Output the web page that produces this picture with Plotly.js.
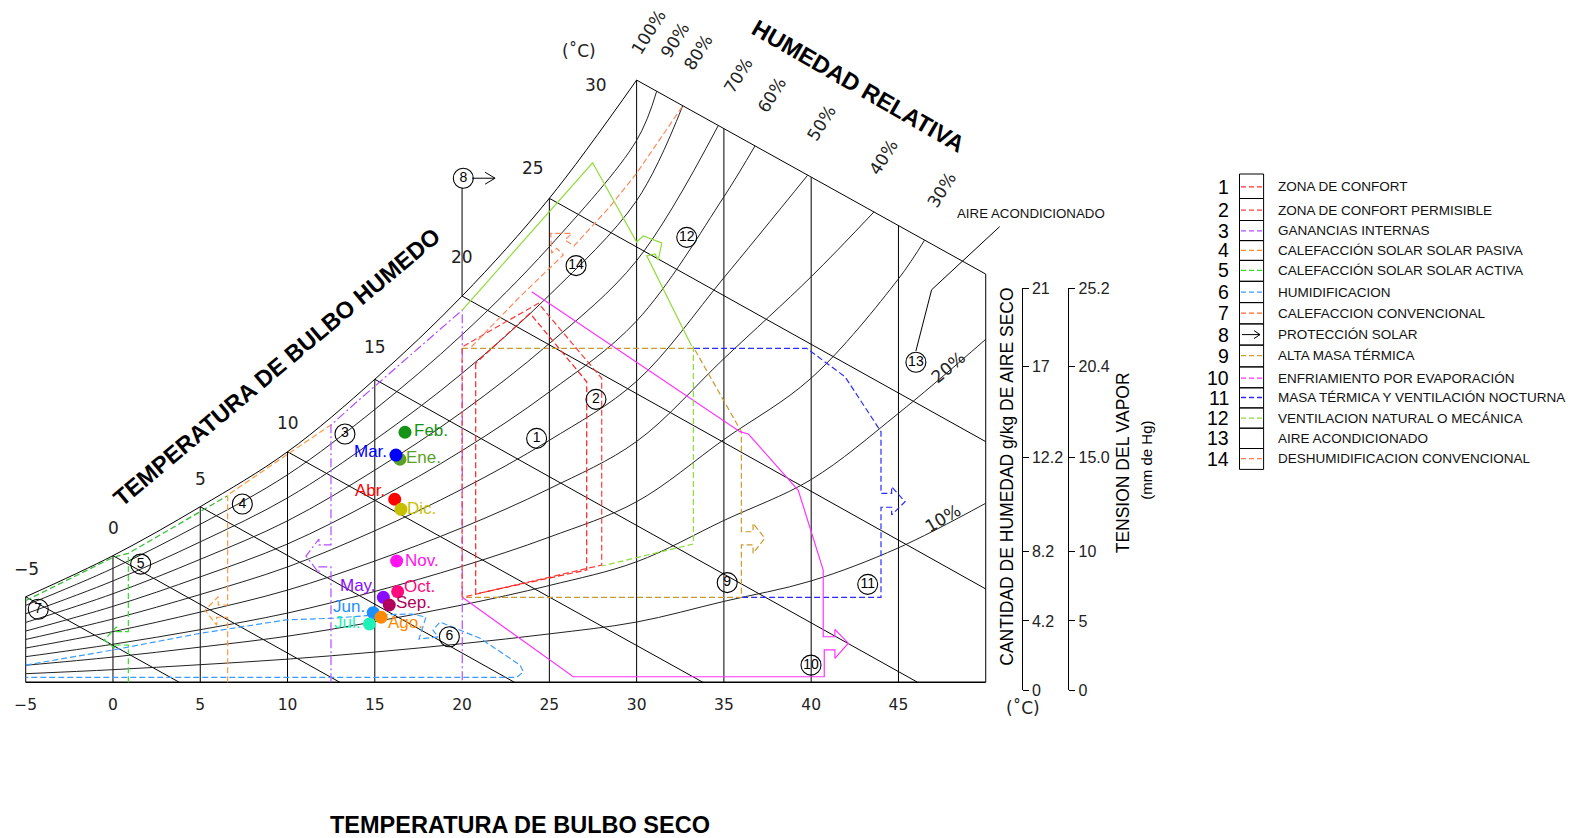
<!DOCTYPE html>
<html><head><meta charset="utf-8">
<script src="https://cdn.plot.ly/plotly-3.0.1.min.js"></script>
<style>html,body{margin:0;padding:0;background:#fff}#chart{width:1578px;height:838px}</style>
</head><body><div id="chart"></div>
<script>
// ---------------- DATA ----------------
const dryBulbTicks = [-5,0,5,10,15,20,25,30,35,40,45];
const dryBulbTickText = ['\u22125','0','5','10','15','20','25','30','35','40','45'];

// saturation curve (100 %)  T (°C) / humidity (chart units)
const rh100T = [-5,0,5,10,15,20,25,30];
const rh100W = [4.47,6.62,9.18,12.05,15.84,20.19,25.30,31.48];
const rh90T = [-5,0,5,10,15,20,25,30,31.15];
const rh90W = [4.02,5.96,8.26,10.85,14.26,18.17,22.77,28.33,30.90];
const rh80T = [-5,0,5,10,15,20,25,30,32.64];
const rh80W = [3.58,5.30,7.34,9.64,12.67,16.15,20.24,25.18,30.14];
const rh70T = [-5,0,5,10,15,20,25,30,34.68];
const rh70W = [3.13,4.63,6.43,8.44,11.09,14.13,17.71,22.04,29.11];
const rh60T = [-5,0,5,10,15,20,25,30,35,36.78];
const rh60W = [2.68,3.97,5.51,7.23,9.50,12.11,15.18,18.89,25.38,28.04];
const rh50T = [-5,0,5,10,15,20,25,30,35,39.8];
const rh50W = [2.24,3.31,4.59,6.03,7.92,10.10,12.65,15.74,21.15,26.51];
const rh40T = [-5,0,5,10,15,20,25,30,35,40,43.6];
const rh40W = [1.79,2.65,3.67,4.82,6.34,8.08,10.12,12.59,16.92,21.20,24.59];
const rh30T = [-5,0,5,10,15,20,25,30,35,40,45,46.5];
const rh30W = [1.34,1.99,2.75,3.62,4.75,6.06,7.59,9.44,12.69,15.90,21.09,23.12];
const rh20T = [-5,0,5,10,15,20,25,30,35,40,45,50];
const rh20W = [0.89,1.32,1.84,2.41,3.17,4.04,5.06,6.30,8.46,10.60,14.06,17.93];
const rh10T = [-5,0,5,10,15,20,25,30,35,40,45,50];
const rh10W = [0.45,0.66,0.92,1.21,1.58,2.02,2.53,3.15,4.23,5.30,7.03,9.36];

// wet-bulb lines: start on saturation curve, end on bottom / right edge
const wbT = [-5,0,5,10,15,20,25,30];
const wbStartW = [4.47,6.62,9.18,12.05,15.84,20.19,25.30,31.48];
const wbEndT = [3.8,13.0,23.0,33.8,46.1,50,50,50];
const wbEndW = [0,0,0,0,0,4.88,12.58,21.34];
const wbLabels = ['\u22125','0','5','10','15','20','25','30'];
const wbLabelT = [-4.94,0.02,4.99,10.04,15.01,19.98,24.08,27.67];
const wbLabelW = [5.91,8.05,10.61,13.54,17.54,22.25,26.87,31.22];

// dry-bulb vertical lines and their top
const dbLineT = [-5,0,5,10,15,25,30,35,40,45,50];
const dbLineTop = [4.47,6.62,9.18,12.05,15.84,25.30,31.48,28.94,26.40,23.86,21.34];

// relative humidity labels
const rhLabels = ['100%','90%','80%','70%','60%','50%','40%','30%','20%','10%'];
const rhLabelT = [30.67,32.2,33.53,35.83,37.74,40.6,44.13,47.48,47.86,47.57];
const rhLabelW = [34.01,33.58,32.96,31.75,30.70,29.22,27.48,25.73,16.50,8.57];
const rhLabelAngle = [-58,-58,-58,-58,-58,-58,-58,-58,-40,-30];

// strategy zones
const zone1T = [20.78,20.78,27.14,27.14,23.89,20.78];
const zone1W = [16.68,4.62,5.87,15.71,19.29,16.68];
const zone2T = [20.0,20.0,24.37,28.0,28.0,20.0];
const zone2W = [4.44,17.53,19.81,15.89,6.13,4.44];
const zone3T = [12.49,12.49,11.80,11.80,11.06,11.80,11.80,12.49,12.49,13.87,20.01,20.01];
const zone3W = [0,6.03,6.03,5.71,6.60,7.49,7.18,7.18,13.45,14.58,19.46,0];
const zone4T = [6.57,6.57,5.94,5.94,5.27,6.03,6.03,6.57,6.57,12.62];
const zone4W = [0,3.40,3.40,2.99,3.77,4.47,4.04,4.04,9.79,13.54];
const zone5T = [0.88,0.88,0.12,0.12,-0.50,0.21,0.21,0.88,0.88];
const zone5W = [0,1.95,1.95,1.78,2.21,2.91,2.65,2.65,6.74];
const zone5topT = [-5,0,0.88,6.55];
const zone5topW = [4.27,6.53,6.74,9.74];
const zone6T = [-5,0,5,9.9,12.62,15.0,17.13,17.93,17.53,18.62,18.33,18.74,21.03,23.32,23.51,23.13,-5];
const zone6W = [0.90,1.69,2.56,3.26,3.35,3.52,3.57,3.41,2.26,2.37,2.73,3.15,2.30,0.90,0.55,0.26,0.26];
const zone9T = [20.0,33.29,36.0,36.0,36.67,36.67,37.34,36.67,36.67,36.0,36.0,20.0];
const zone9W = [17.46,17.46,13.10,7.87,7.87,8.31,7.53,6.74,7.18,7.18,4.44,4.44];
const zone10T = [23.99,35.92,36.40,39.26,40.69,40.69,41.36,41.36,42.13,41.36,41.36,40.75,40.75,26.37,20.01];
const zone10W = [20.42,13.10,12.98,10.04,5.87,2.38,2.38,2.77,2.04,1.25,1.69,1.69,0.29,0.29,4.44];
const zone11T = [33.29,39.74,41.94,44.0,44.0,44.61,44.61,45.38,44.61,44.61,44.0,44.0,36.0];
const zone11W = [17.46,17.46,15.97,13.10,9.88,9.88,10.22,9.44,8.75,9.15,9.15,4.44,4.44];
const zone12T = [20.01,27.48,30.0,30.38,31.44,31.24,31.05,30.58,33.15];
const zone12W = [19.46,27.16,23.02,23.33,22.97,22.07,22.39,22.29,17.58];
const zone12bT = [33.25,33.25,28.0];
const zone12bW = [17.58,7.23,6.08];
const zone14T = [20.54,23.32,25.80,25.42,25.13,25.08,26.28,25.90,26.41,28.47,30.0,32.64];
const zone14W = [17.54,20.16,22.34,22.69,22.43,23.47,23.47,23.12,22.81,24.86,26.61,30.13];
const zone8T = [20.0,20.0];
const zone8W = [20.19,25.84];
const zone8ArrowT = [20.57,21.89];
const zone8ArrowW = [26.35,26.35];
const zone8HeadT = [21.32,21.89,21.32];
const zone8HeadW = [26.66,26.35,26.04];
const zone13T = [46.0,46.9,50.8];
const zone13W = [17.32,20.52,23.82];

// numbered circles
const circNum = ['1','2','3','4','5','6','7','8','9','10','11','12','13','14'];
const circT = [24.27,27.67,13.29,7.41,1.59,19.27,-4.28,20.07,35.19,39.99,43.24,32.87,46.0,26.53];
const circW = [12.75,14.79,12.98,9.32,6.18,2.38,3.82,26.35,5.21,0.90,5.12,23.26,16.73,21.78];

// monthly climate points
const months = ['Ene.','Feb.','Mar.','Abr.','May.','Jun.','Jul.','Ago.','Sep.','Oct.','Nov.','Dic.'];
const monthT = [16.44,16.73,16.21,16.14,15.49,14.91,14.69,15.36,15.83,16.31,16.25,16.50];
const monthW = [11.66,13.07,11.88,9.57,4.44,3.64,3.05,3.40,4.04,4.74,6.34,9.04];
const monthColors = ['#5aa12a','#169216','#0000ff','#ff0000','#8a0cff','#1e8fff','#1ff2b8','#ff8a00','#b0005c','#ff0a7e','#ff14f0','#c6c000'];
const monthDrawOrder = [0,1,2,3,11,10,4,9,8,5,6,7];

// right axes
const moistTickText = ['0','4.2','8.2','12.2','17','21'];
const moistTickPos = [0,3.61,7.23,12.16,16.90,21];
const vapTickText = ['0','5','10','15.0','20.4','25.2'];
const vapTickPos = [0,4.33,8.68,14.60,20.28,25.2];

// legend
const legendNums = ['1','2','3','4','5','6','7','8','9','10','11','12','13','14'];
const legendLabels = ['ZONA DE CONFORT','ZONA DE CONFORT PERMISIBLE','GANANCIAS INTERNAS','CALEFACCI\u00d3N SOLAR SOLAR PASIVA','CALEFACCI\u00d3N SOLAR SOLAR ACTIVA','HUMIDIFICACION','CALEFACCION CONVENCIONAL','PROTECCI\u00d3N SOLAR','ALTA MASA T\u00c9RMICA','ENFRIAMIENTO POR EVAPORACI\u00d3N','MASA T\u00c9RMICA Y VENTILACI\u00d3N NOCTURNA','VENTILACION NATURAL O MEC\u00c1NICA','AIRE ACONDICIONADO','DESHUMIDIFICACION CONVENCIONAL'];
const legendColors = ['#ff3030','#ff4040','#b44cff','#ff8c26','#2ee02e','#3a9cff','#ff6633','arrow','#c9a02e','#ff33ff','#2b2bff','#8fdc3a','','#ff7f50'];

// ---------------- LAYOUT HELPERS ----------------
const W = 1578, H = 838;
const x0px = 25.7, pxPerC = 17.455, y0px = 682.3, pxPerU = 19.13;
const PX = p => p / W, PY = p => 1 - p / H;

const traces = [];
function L(x, y, color, width, dash, shape) {
  traces.push({type:'scatter', mode:'lines', x:x, y:y, xaxis:'x', yaxis:'y',
    line:{color:color, width:width||1, dash:dash||'solid', shape:shape||'linear', smoothing:1},
    hoverinfo:'skip', showlegend:false});
}
for (let i = 0; i < dbLineT.length; i++) L([dbLineT[i], dbLineT[i]], [0, dbLineTop[i]], '#000', 1);
L([-5, 50], [0, 0], '#000', 1.5);
for (let i = 0; i < wbT.length; i++) L([wbT[i], wbEndT[i]], [wbStartW[i], wbEndW[i]], '#000', 1);
const rhSets = [[rh100T,rh100W],[rh90T,rh90W],[rh80T,rh80W],[rh70T,rh70W],[rh60T,rh60W],[rh50T,rh50W],[rh40T,rh40W],[rh30T,rh30W],[rh20T,rh20W],[rh10T,rh10W]];
rhSets.forEach((s, i) => L(s[0], s[1], i === 0 ? '#000' : '#222', 1, 'solid', 'spline'));

const D = '6px,3px';
L(zone6T, zone6W, '#3a9cff', 1.2, D);
L(zone5T, zone5W, '#2ee02e', 1.2, D);
L(zone5topT, zone5topW, '#2fbf2f', 1.2, D);
L(zone4T, zone4W, '#ff9a3c', 1.2, D);
L(zone3T, zone3W, '#b44cff', 1.2, '9px,3px,2px,3px');
L(zone9T, zone9W, '#c99a2e', 1.2, D);
L(zone11T, zone11W, '#2b2bff', 1.2, D);
L(zone10T, zone10W, '#ff33ff', 1.2);
L(zone12T, zone12W, '#8fdc3a', 1.2);
L(zone12bT, zone12bW, '#8fdc3a', 1.2, D);
L(zone2T, zone2W, '#ff3c3c', 1.2, D);
L(zone1T, zone1W, '#ff2020', 1.2, D);
L(zone14T, zone14W, '#ff8a5c', 1.2, D);
L(zone8T, zone8W, '#000', 1);
L(zone8ArrowT, zone8ArrowW, '#000', 1);
L(zone8HeadT, zone8HeadW, '#000', 1);
L(zone13T, zone13W, '#000', 1);

traces.push({type:'scatter', mode:'markers+text', x:circT, y:circW, text:circNum, xaxis:'x', yaxis:'y',
  textposition:'middle center', cliponaxis:false,
  marker:{symbol:'circle-open', size:20, color:'#000', line:{width:1.1, color:'#000'}},
  textfont:{family:'Liberation Sans, Arial, sans-serif', size:14, color:'#000'},
  hoverinfo:'skip', showlegend:false});

monthDrawOrder.forEach(i => {
  traces.push({type:'scatter', mode:'markers', x:[monthT[i]], y:[monthW[i]], xaxis:'x', yaxis:'y', cliponaxis:false,
    marker:{size:13, color:monthColors[i]}, hoverinfo:'skip', showlegend:false});
});

traces.push({type:'scatter', mode:'markers', x:[null], y:[null], xaxis:'x', yaxis:'y2', showlegend:false, hoverinfo:'skip'});
traces.push({type:'scatter', mode:'markers', x:[null], y:[null], xaxis:'x', yaxis:'y3', showlegend:false, hoverinfo:'skip'});

// ---------------- ANNOTATIONS ----------------
const ann = [];
wbLabels.forEach((t, i) => ann.push({x:wbLabelT[i], y:wbLabelW[i], xref:'x', yref:'y', text:t, showarrow:false,
  font:{family:'DejaVu Sans, sans-serif', size:17, color:'#222'}, xanchor:'center', yanchor:'middle'}));
rhLabels.forEach((t, i) => ann.push({x:rhLabelT[i], y:rhLabelW[i], xref:'x', yref:'y', text:t, showarrow:false,
  textangle:rhLabelAngle[i], font:{family:'DejaVu Sans, sans-serif', size:17, color:'#222'}, xanchor:'center', yanchor:'middle'}));

const mAnchor = ['left','left','right','right','right','right','right','left','left','left','left','left'];
const mDx = [4,7,-7,-8,-5,-6,-7,5,5,4,6,4];
const mDy = [2,2,4,9,12,6,1,-5,3,5,1,1];
months.forEach((m, i) => ann.push({x:monthT[i], y:monthW[i], xref:'x', yref:'y', text:m, showarrow:false,
  xanchor:mAnchor[i], yanchor:'middle', xshift:mDx[i], yshift:mDy[i],
  font:{family:'Liberation Sans, Arial, sans-serif', size:17, color:monthColors[i]}}));

const bold = s => ({family:'Liberation Sans, Arial, sans-serif', size:s, color:'#000', weight:'bold'});
ann.push({x:PX(277), y:PY(367), xref:'paper', yref:'paper', text:'<b>TEMPERATURA DE BULBO HUMEDO</b>', showarrow:false, textangle:-40, font:bold(23.5), xanchor:'center', yanchor:'middle'});
ann.push({x:PX(858), y:PY(86), xref:'paper', yref:'paper', text:'<b>HUMEDAD RELATIVA</b>', showarrow:false, textangle:30, font:bold(23.5), xanchor:'center', yanchor:'middle'});
ann.push({x:PX(520), y:PY(825), xref:'paper', yref:'paper', text:'<b>TEMPERATURA DE BULBO SECO</b>', showarrow:false, font:bold(23.5), xanchor:'center', yanchor:'middle'});
ann.push({x:PX(578.6), y:PY(51), xref:'paper', yref:'paper', text:'(\u02daC)', showarrow:false, font:{family:'DejaVu Sans, sans-serif', size:17, color:'#222'}, xanchor:'center', yanchor:'middle'});
ann.push({x:PX(1023.3), y:PY(708.3), xref:'paper', yref:'paper', text:'(\u02daC)', showarrow:false, font:{family:'DejaVu Sans, sans-serif', size:17, color:'#222'}, xanchor:'center', yanchor:'middle'});
ann.push({x:PX(1030.5), y:PY(213.4), xref:'paper', yref:'paper', text:'AIRE ACONDICIONADO', showarrow:false, font:{family:'Liberation Sans, Arial, sans-serif', size:13.3, color:'#111'}, xanchor:'center', yanchor:'middle'});
ann.push({x:PX(1006.7), y:PY(477), xref:'paper', yref:'paper', text:'CANTIDAD DE HUMEDAD g/kg DE AIRE SECO', showarrow:false, textangle:-90, font:{family:'Liberation Sans, Arial, sans-serif', size:17.5, color:'#000'}, xanchor:'center', yanchor:'middle'});
ann.push({x:PX(1123.3), y:PY(463), xref:'paper', yref:'paper', text:'TENSION DEL VAPOR', showarrow:false, textangle:-90, font:{family:'Liberation Sans, Arial, sans-serif', size:17.5, color:'#000'}, xanchor:'center', yanchor:'middle'});
ann.push({x:PX(1146.7), y:PY(460), xref:'paper', yref:'paper', text:'(mm de Hg)', showarrow:false, textangle:-90, font:{family:'Liberation Sans, Arial, sans-serif', size:15, color:'#000'}, xanchor:'center', yanchor:'middle'});

const rowY = [186.8,210.2,230.9,250.3,270.4,292.1,313.2,334.6,355.7,378.1,397.5,418.2,438.3,458.7];
const boxY = [174,198.5,220.5,240.6,260.4,281.3,302.6,323.9,345.1,366.9,387.8,407.9,428.2,448.5,469.4];
const shapes = [];
legendNums.forEach((n, i) => {
  ann.push({x:PX(1230), y:PY(rowY[i]), xref:'paper', yref:'paper', text:n, showarrow:false, xanchor:'right', yanchor:'middle',
    borderpad:0, font:{family:'Liberation Sans, Arial, sans-serif', size:19.5, color:'#000'}});
  ann.push({x:PX(1276), y:PY(rowY[i]), xref:'paper', yref:'paper', text:legendLabels[i], showarrow:false, xanchor:'left', yanchor:'middle',
    font:{family:'Liberation Sans, Arial, sans-serif', size:13.5, color:'#111'}});
  shapes.push({type:'rect', xref:'paper', yref:'paper', x0:PX(1239.5), x1:PX(1263.6), y0:PY(boxY[i+1]), y1:PY(boxY[i]),
    line:{color:'#000', width:1}});
  const c = legendColors[i];
  if (c === 'arrow') {
    shapes.push({type:'line', xref:'paper', yref:'paper', x0:PX(1242), x1:PX(1260), y0:PY(rowY[i]), y1:PY(rowY[i]), line:{color:'#000', width:1}});
    shapes.push({type:'path', xref:'paper', yref:'paper', path:'M '+PX(1254)+' '+PY(rowY[i]-4)+' L '+PX(1260)+' '+PY(rowY[i])+' L '+PX(1254)+' '+PY(rowY[i]+4), line:{color:'#000', width:1}});
  } else if (c) {
    shapes.push({type:'line', xref:'paper', yref:'paper', x0:PX(1241), x1:PX(1262), y0:PY(rowY[i]), y1:PY(rowY[i]), line:{color:c, width:1.3, dash:'5px,3px'}});
  }
});

const layout = {
  width:W, height:H, margin:{l:0, r:0, t:0, b:0}, paper_bgcolor:'#fff', plot_bgcolor:'rgba(0,0,0,0)',
  showlegend:false,
  xaxis:{range:[-5.1, 52], domain:[(x0px - 0.1*pxPerC)/W, (x0px + 57*pxPerC)/W], showgrid:false, zeroline:false, showline:false,
    tickmode:'array', tickvals:dryBulbTicks, ticktext:dryBulbTickText, ticks:'', ticklabelstandoff:8,
    tickfont:{family:'DejaVu Sans, sans-serif', size:15.5, color:'#222'}, fixedrange:true, automargin:false},
  yaxis:{range:[-0.15, y0px/pxPerU], domain:[(H - (y0px + 0.15*pxPerU))/H, 1], visible:false, fixedrange:true},
  yaxis2:{range:[0, 21], domain:[(H-690)/H, (H-288.3)/H], anchor:'free', position:1021.7/W, side:'right',
    showline:true, linecolor:'#000', linewidth:1, ticks:'outside', ticklen:6, tickcolor:'#000', showgrid:false, zeroline:false,
    tickmode:'array', tickvals:moistTickPos, ticktext:moistTickText,
    tickfont:{family:'Liberation Sans, Arial, sans-serif', size:16, color:'#222'}, fixedrange:true, automargin:false},
  yaxis3:{range:[0, 25.2], domain:[(H-690)/H, (H-288.3)/H], anchor:'free', position:1068.3/W, side:'right',
    showline:true, linecolor:'#000', linewidth:1, ticks:'outside', ticklen:6, tickcolor:'#000', showgrid:false, zeroline:false,
    tickmode:'array', tickvals:vapTickPos, ticktext:vapTickText,
    tickfont:{family:'Liberation Sans, Arial, sans-serif', size:16, color:'#222'}, fixedrange:true, automargin:false},
  annotations:ann, shapes:shapes
};
Plotly.newPlot('chart', traces, layout, {displayModeBar:false, staticPlot:true});
</script></body></html>
